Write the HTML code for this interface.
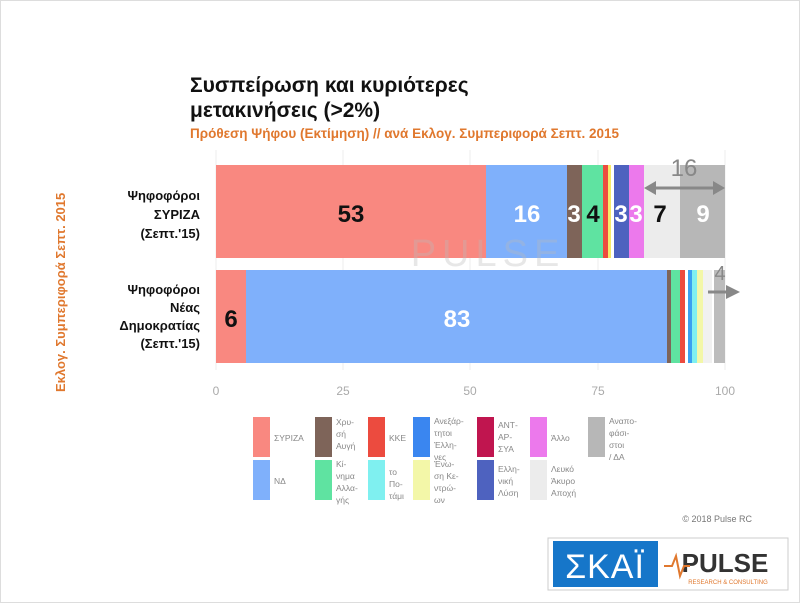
<!DOCTYPE html><html><head><meta charset="utf-8"><style>
body{margin:0;width:800px;height:603px;background:#fff;font-family:"Liberation Sans",sans-serif;overflow:hidden;position:relative}
.a{position:absolute}
</style></head><body>
<svg class="a" style="left:0;top:0" width="800" height="603" xmlns="http://www.w3.org/2000/svg" font-family="Liberation Sans, sans-serif">
<rect x="0.5" y="0.5" width="799" height="602" fill="none" stroke="#ddd"/>
<text x="190" y="92" font-size="21" font-weight="bold" fill="#111">Συσπείρωση και κυριότερες</text>
<text x="190" y="117" font-size="21" font-weight="bold" fill="#111">μετακινήσεις (&gt;2%)</text>
<text x="190" y="138" font-size="13.5" font-weight="bold" fill="#e0782e">Πρόθεση Ψήφου (Εκτίμηση) // ανά Εκλογ. Συμπεριφορά Σεπτ. 2015</text>
<text transform="translate(65,392) rotate(-90)" font-size="13" font-weight="bold" fill="#e0782e">Εκλογ. Συμπεριφορά Σεπτ. 2015</text>
<g stroke="#eee" stroke-width="1">
<line x1="216" y1="150" x2="216" y2="370"/><line x1="343" y1="150" x2="343" y2="370"/><line x1="470" y1="150" x2="470" y2="370"/><line x1="598" y1="150" x2="598" y2="370"/><line x1="725" y1="150" x2="725" y2="370"/>
</g>
<rect x="216" y="165" width="270" height="93" fill="#f98880"/>
<rect x="486" y="165" width="81" height="93" fill="#7fb0fb"/>
<rect x="567" y="165" width="15" height="93" fill="#7e6459"/>
<rect x="582" y="165" width="21" height="93" fill="#5fe3a1"/>
<rect x="603" y="165" width="5" height="93" fill="#ec4b3f"/>
<rect x="608" y="165" width="3" height="93" fill="#f7e96a"/>
<rect x="611" y="165" width="3" height="93" fill="#fff"/>
<rect x="614" y="165" width="15" height="93" fill="#4e62bf"/>
<rect x="629" y="165" width="15" height="93" fill="#ec79ec"/>
<rect x="644" y="165" width="36" height="93" fill="#ececec"/>
<rect x="680" y="165" width="45" height="93" fill="#b7b7b7"/>
<rect x="216" y="270" width="30" height="93" fill="#f98880"/>
<rect x="246" y="270" width="421" height="93" fill="#7fb0fb"/>
<rect x="667" y="270" width="4" height="93" fill="#7e6459"/>
<rect x="671" y="270" width="9" height="93" fill="#5fe3a1"/>
<rect x="680" y="270" width="5" height="93" fill="#ec4b3f"/>
<rect x="685" y="270" width="3" height="93" fill="#fff"/>
<rect x="688" y="270" width="4" height="93" fill="#3aa0f0"/>
<rect x="692" y="270" width="5" height="93" fill="#7ff0f0"/>
<rect x="697" y="270" width="6" height="93" fill="#f3f7a8"/>
<rect x="703" y="270" width="9" height="93" fill="#f1f1f1"/>
<rect x="714" y="270" width="11" height="93" fill="#bcbcbc"/>
<text x="488" y="266" font-size="38" fill="#bbb" fill-opacity="0.35" text-anchor="middle" letter-spacing="6">PULSE</text>
<g font-size="24" font-weight="bold" text-anchor="middle">
<text x="351" y="222" fill="#111">53</text>
<text x="527" y="222" fill="#fff">16</text>
<text x="574" y="222" fill="#fff">3</text>
<text x="593" y="222" fill="#111">4</text>
<text x="621" y="222" fill="#fff">3</text>
<text x="636" y="222" fill="#fff">3</text>
<text x="660" y="222" fill="#111">7</text>
<text x="703" y="222" fill="#fff">9</text>
<text x="231" y="327" fill="#111">6</text>
<text x="457" y="327" fill="#fff">83</text>
<text x="684" y="176" fill="#888" font-weight="normal">16</text>
<text x="720" y="280" fill="#888" font-weight="normal" font-size="20">4</text>
</g>
<g fill="#888" stroke="#888">
<line x1="650" y1="188" x2="718" y2="188" stroke-width="3"/>
<polygon points="644,188 656,181 656,195" stroke="none"/><polygon points="725,188 713,181 713,195" stroke="none"/>
<line x1="708" y1="292" x2="730" y2="292" stroke-width="3"/><polygon points="740,292 726,285 726,299" stroke="none"/>
</g>
<g font-size="13" font-weight="bold" fill="#111" text-anchor="end">
<text x="200" y="200">Ψηφοφόροι</text><text x="200" y="219">ΣΥΡΙΖΑ</text><text x="200" y="238">(Σεπτ.'15)</text>
<text x="200" y="294">Ψηφοφόροι</text><text x="200" y="312">Νέας</text><text x="200" y="330">Δημοκρατίας</text><text x="200" y="348">(Σεπτ.'15)</text>
</g>
<g font-size="12" fill="#aaa" text-anchor="middle">
<text x="216" y="395">0</text><text x="343" y="395">25</text><text x="470" y="395">50</text><text x="598" y="395">75</text><text x="725" y="395">100</text>
</g>
<g font-size="8.5" fill="#888">
<rect x="253" y="417" width="17" height="40" fill="#f98880"/><text x="274" y="441">ΣΥΡΙΖΑ</text>
<rect x="253" y="460" width="17" height="40" fill="#7fb0fb"/><text x="274" y="484">ΝΔ</text>
<rect x="315" y="417" width="17" height="40" fill="#7e6459"/><text x="336" y="425">Χρυ-</text><text x="336" y="437">σή</text><text x="336" y="449">Αυγή</text>
<rect x="315" y="460" width="17" height="40" fill="#5fe3a1"/><text x="336" y="467">Κί-</text><text x="336" y="479">νημα</text><text x="336" y="491">Αλλα-</text><text x="336" y="503">γής</text>
<rect x="368" y="417" width="17" height="40" fill="#ec4b3f"/><text x="389" y="441">ΚΚΕ</text>
<rect x="368" y="460" width="17" height="40" fill="#7ff0f0"/><text x="389" y="475">το</text><text x="389" y="487">Πο-</text><text x="389" y="499">τάμι</text>
<rect x="413" y="417" width="17" height="40" fill="#3a86f0"/><text x="434" y="424">Ανεξάρ-</text><text x="434" y="436">τητοι</text><text x="434" y="448">Έλλη-</text><text x="434" y="460">νες</text>
<rect x="413" y="460" width="17" height="40" fill="#f3f7a8"/><text x="434" y="467">Ένω-</text><text x="434" y="479">ση Κε-</text><text x="434" y="491">ντρώ-</text><text x="434" y="503">ων</text>
<rect x="477" y="417" width="17" height="40" fill="#c0154f"/><text x="498" y="428">ΑΝΤ-</text><text x="498" y="440">ΑΡ-</text><text x="498" y="452">ΣΥΑ</text>
<rect x="477" y="460" width="17" height="40" fill="#4e62bf"/><text x="498" y="472">Ελλη-</text><text x="498" y="484">νική</text><text x="498" y="496">Λύση</text>
<rect x="530" y="417" width="17" height="40" fill="#ec79ec"/><text x="551" y="441">Άλλο</text>
<rect x="530" y="460" width="17" height="40" fill="#ececec"/><text x="551" y="472">Λευκό</text><text x="551" y="484">Άκυρο</text><text x="551" y="496">Αποχή</text>
<rect x="588" y="417" width="17" height="40" fill="#b7b7b7"/><text x="609" y="424">Αναπο-</text><text x="609" y="436">φάσι-</text><text x="609" y="448">στοι</text><text x="609" y="460">/ ΔΑ</text>
</g>
<text x="752" y="522" font-size="9" fill="#777" text-anchor="end">© 2018 Pulse RC</text>
<rect x="548" y="538" width="240" height="52" fill="#fff" stroke="#ccc"/>
<rect x="553" y="541" width="105" height="46" fill="#1676c9"/>
<text x="605" y="578" font-size="34" fill="#fff" text-anchor="middle" letter-spacing="1">ΣΚΑΪ</text>
<text x="725" y="572" font-size="26" fill="#333" text-anchor="middle" font-weight="bold">PULSE</text>
<text x="728" y="584" font-size="6" fill="#e0782e" text-anchor="middle">RESEARCH &amp; CONSULTING</text>
<polyline points="664,566 672,566 676,556 680,576 684,566 690,566" fill="none" stroke="#e0782e" stroke-width="2"/>
</svg>
</body></html>
